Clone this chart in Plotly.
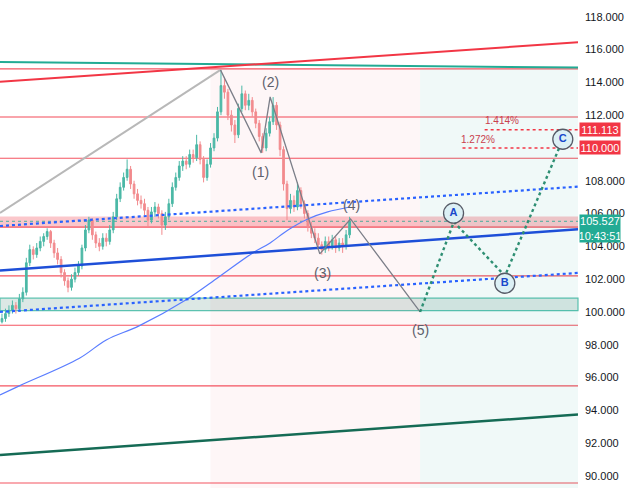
import plotly.graph_objects as go

# ---------------- data ----------------
first_open = 99.4
closes = [99.6, 99.9, 100.1, 100.4, 100.2, 100.8, 101.2, 103.0, 103.8, 103.5,
          103.9, 104.3, 104.6, 104.9, 104.2, 103.6, 103.2, 102.4, 101.9, 101.5,
          102.0, 102.4, 102.8, 103.9, 105.0, 105.6, 104.7, 104.2, 104.0, 104.5,
          104.3, 105.0, 105.8, 106.9, 107.6, 108.2, 108.7, 107.8, 107.2, 106.8,
          106.6, 106.2, 105.6, 106.1, 106.4, 106.0, 105.3, 105.8, 106.6, 107.6,
          108.2, 108.9, 109.2, 109.0, 109.6, 109.4, 110.2, 109.3, 108.2, 109.0,
          110.0, 110.6, 112.2, 113.8, 113.4, 112.0, 111.4, 110.8, 112.4, 113.3,
          112.6, 112.9, 112.2, 111.5, 110.7, 110.0, 110.9, 111.6, 112.6, 111.4,
          109.9, 107.8, 106.3, 106.8, 106.4, 107.4, 106.6, 106.0, 105.2, 104.8,
          104.5, 104.1, 103.8, 104.3, 104.0, 104.4, 103.9, 104.2, 104.0, 104.7,
          105.527]
highs = [99.9, 100.2, 100.4, 100.7, 100.6, 101.1, 101.5, 103.3, 104.1, 104.0,
         104.2, 104.6, 104.8, 105.1, 105.0, 104.4, 103.9, 103.4, 102.6, 102.1,
         102.3, 102.7, 103.1, 104.1, 105.3, 105.8, 105.7, 104.9, 104.5, 104.8,
         104.8, 105.3, 106.1, 107.2, 107.9, 108.5, 109.3, 108.9, 108.0, 107.5,
         107.1, 106.9, 106.4, 106.4, 106.7, 106.6, 106.2, 106.1, 106.9, 107.9,
         108.5, 109.2, 109.5, 109.5, 109.9, 109.9, 110.8, 110.4, 109.5, 109.3,
         110.3, 110.9, 112.5, 114.75, 114.3, 113.6, 112.3, 111.7, 112.7, 113.8,
         113.5, 113.3, 113.1, 112.4, 111.7, 110.9, 111.2, 111.9, 113.1, 112.8,
         111.6, 110.1, 108.0, 107.2, 107.1, 107.9, 107.6, 106.8, 106.2, 105.5,
         105.1, 104.8, 104.3, 104.6, 104.6, 104.7, 104.6, 104.5, 104.5, 105.0,
         105.8]
lows = [99.3, 99.4, 99.7, 99.9, 99.9, 100.0, 100.6, 101.0, 102.8, 103.2,
        103.3, 103.7, 104.0, 104.4, 103.9, 103.3, 102.9, 102.1, 101.6, 101.2,
        101.3, 101.8, 102.2, 102.6, 103.7, 104.8, 104.4, 103.9, 103.7, 103.8,
        104.0, 104.1, 104.8, 105.6, 106.7, 107.4, 108.0, 107.5, 106.9, 106.5,
        106.3, 105.9, 105.2, 105.4, 105.8, 105.7, 104.7, 105.0, 105.6, 106.4,
        107.4, 108.0, 108.6, 108.7, 108.8, 109.1, 109.2, 109.0, 107.9, 108.0,
        108.8, 109.8, 110.4, 112.0, 113.0, 111.7, 111.0, 110.3, 110.6, 112.2,
        112.3, 112.3, 111.9, 111.2, 110.4, 109.7, 109.8, 110.7, 111.4, 111.1,
        109.5, 107.4, 105.6, 106.0, 106.1, 106.2, 106.3, 105.7, 104.9, 104.5,
        104.2, 103.8, 103.5, 103.6, 103.7, 103.8, 103.6, 103.7, 103.6, 103.8,
        104.5]
opens = [first_open] + closes[:-1]
bars = list(range(len(closes)))

# moving average
ma_x = [-0.57, 5.14, 22.29, 30.0, 39.43, 52.86, 62.29, 71.71, 77.14, 82.29, 88.0, 93.7, 100.0]
ma_y = [94.94, 95.51, 97.18, 98.29, 99.15, 100.73, 102.12, 103.54, 104.21, 105.0, 105.67, 106.10, 106.40]

# trend lines: [x0, x1], [y0, y1]
X_EDGE = [-0.571, 165.714]
red_trend = [114.04, 116.44]
teal_trend = [115.24, 114.90]
blue_trend = [102.52, 105.04]
blue_dot_upper = [105.24, 107.64]
blue_dot_lower = [100.0, 102.38]
green_trend = [91.28, 93.74]
grey_diag_x = [-0.571, 62.857]
grey_diag_y = [106.04, 114.76]

# horizontal levels
levels = [114.82, 109.37, 105.17, 102.2, 99.19, 95.49, 89.57]
level_soft = 111.89
pink_band = [105.18, 105.82]
teal_band = [100.08, 100.84]
last_price = 105.527

# y-axis ticks (110.000 sits under the red price tag)
tick_vals = list(range(90, 119, 2))
tick_text = ["" if v == 110 else f"{v:.3f}" for v in tick_vals]

# Elliott waves
wave_x = [62.857, 74.571, 77.143, 91.429, 100.286, 120.286]
wave_y = [114.76, 109.70, 113.11, 103.54, 105.67, 100.0]
wave_labels = ["(1)", "(2)", "(3)", "(4)", "(5)"]
wave_lab_x = [74.29, 77.14, 92.29, 100.57, 120.29]
wave_lab_y = [108.54, 114.02, 102.38, 106.52, 98.90]

# ABC correction
abc_x = [120.286, 130.0, 144.7, 160.3]
abc_y = [100.0, 105.49, 102.2, 110.0]
abc_labels = ["A", "B", "C"]
abc_lab_x = [129.91, 144.66, 161.34]
abc_lab_y = [106.02, 101.75, 110.53]

# fib extension lines
fib_vals = [111.113, 110.0]
fib_x0 = [138.857, 132.486]
fib_text = ["1.414%", "1.272%"]
fib_lab_x = [143.9, 137.06]
fib_lab_y = [111.65, 110.49]

# zones
pink_zone_x = [60.0, 120.286]
green_zone_x = [120.286, 165.714]
zone_y = [89.27, 114.82]

RED = "#f23645"
TEAL = "#22ab94"
BLUE = "#1e4fd8"
FONT = "Liberation Sans, Arial"

fig = go.Figure()

# background zones
fig.add_shape(type="rect", x0=pink_zone_x[0], x1=pink_zone_x[1], y0=zone_y[0], y1=zone_y[1],
              fillcolor="rgba(242,54,69,0.045)", line_width=0, layer="below")
fig.add_shape(type="rect", x0=green_zone_x[0], x1=green_zone_x[1], y0=zone_y[0], y1=zone_y[1],
              fillcolor="rgba(8,153,129,0.06)", line_width=0, layer="below")
# bands
fig.add_shape(type="rect", xref="paper", x0=0, x1=1, y0=pink_band[0], y1=pink_band[1],
              fillcolor="rgba(242,54,69,0.28)", line_width=0, layer="below")
fig.add_shape(type="rect", xref="paper", x0=0, x1=1, y0=teal_band[0], y1=teal_band[1],
              fillcolor="rgba(80,140,125,0.2)", line=dict(color="#5cc2b0", width=1.2), layer="below")
# horizontal levels
for lv in levels:
    fig.add_shape(type="line", xref="paper", x0=0, x1=1, y0=lv, y1=lv,
                  line=dict(color="rgba(242,54,69,0.85)", width=1.2), layer="below")
fig.add_shape(type="line", xref="paper", x0=0, x1=1, y0=level_soft, y1=level_soft,
              line=dict(color="rgba(242,54,69,0.45)", width=2), layer="below")
fig.add_shape(type="line", xref="paper", x0=0, x1=1, y0=last_price, y1=last_price,
              line=dict(color="rgba(34,171,148,0.8)", width=1, dash="dot"), layer="below")

# moving average
fig.add_trace(go.Scatter(x=ma_x, y=ma_y, mode="lines", line=dict(color="#5a7dff", width=1.2, shape="spline"),
                         hoverinfo="skip"))

# candles
fig.add_trace(go.Candlestick(x=bars, open=opens, high=highs, low=lows, close=closes,
                             increasing=dict(line=dict(color="#4bb8a6", width=1), fillcolor="#4bb8a6"),
                             decreasing=dict(line=dict(color="#f28b8e", width=1), fillcolor="#f28b8e"),
                             whiskerwidth=0, hoverinfo="skip"))

def line(xs, ys, color, width, dash=None):
    fig.add_trace(go.Scatter(x=xs, y=ys, mode="lines",
                             line=dict(color=color, width=width, dash=dash), hoverinfo="skip"))

line(grey_diag_x, grey_diag_y, "#b8b8b8", 2)
line(X_EDGE, teal_trend, TEAL, 2)
line(X_EDGE, red_trend, RED, 2)
line(X_EDGE, blue_trend, BLUE, 2.5)
line(X_EDGE, blue_dot_upper, "#2962ff", 2.2, "dot")
line(X_EDGE, blue_dot_lower, "#2962ff", 2.2, "dot")
line(X_EDGE, green_trend, "#156b55", 2.5)

# fib lines
for v, x0 in zip(fib_vals, fib_x0):
    line([x0, X_EDGE[1]], [v, v], RED, 1.5, "dot")
for t, x, y in zip(fib_text, fib_lab_x, fib_lab_y):
    fig.add_annotation(x=x, y=y, text=t, showarrow=False,
                       font=dict(family=FONT, size=10, color="#c8404d"))

# waves
line(wave_x, wave_y, "#7b7e88", 1.3)
for t, x, y in zip(wave_labels, wave_lab_x, wave_lab_y):
    fig.add_annotation(x=x, y=y, text=t, showarrow=False,
                       font=dict(family=FONT, size=14, color="#5d606b"))

# ABC
line(abc_x, abc_y, "#2e8f73", 2.4, "dot")
fig.add_trace(go.Scatter(x=abc_lab_x, y=abc_lab_y, mode="markers+text",
                         text=[f"<b>{t}</b>" for t in abc_labels],
                         textposition="middle center",
                         textfont=dict(family=FONT, size=11, color="#1848cc"),
                         marker=dict(size=20, color="#dcf0f5", line=dict(color="#555a66", width=1.3)),
                         hoverinfo="skip"))

# price boxes on axis
for v, txt in [(111.10, "111.113"), (110.0, "110.000")]:
    fig.add_annotation(xref="paper", x=1, xanchor="left", xshift=1, y=v, yref="y", text=txt,
                       showarrow=False, bgcolor=RED, width=40, height=13, borderpad=0,
                       font=dict(family=FONT, size=11, color="white"))
fig.add_annotation(xref="paper", x=1, xanchor="left", xshift=1, y=105.10, yref="y",
                   text="105.527<br>10:43:51", showarrow=False, bgcolor="#22ab94",
                   width=40, height=27, borderpad=0,
                   font=dict(family=FONT, size=11, color="white"))

fig.update_layout(
    width=625, height=494, margin=dict(l=0, r=43, t=0, b=0),
    plot_bgcolor="white", paper_bgcolor="white", showlegend=False,
    xaxis=dict(range=X_EDGE, visible=False, rangeslider=dict(visible=False), fixedrange=True),
    yaxis=dict(range=[88.90, 119.02], side="right", tickvals=tick_vals, ticktext=tick_text,
               showgrid=False, zeroline=False, ticks="", showline=False,
               ticklabelstandoff=6,
               tickfont=dict(family=FONT, size=11, color="#131722")),
)

fig.write_html("out.html")
